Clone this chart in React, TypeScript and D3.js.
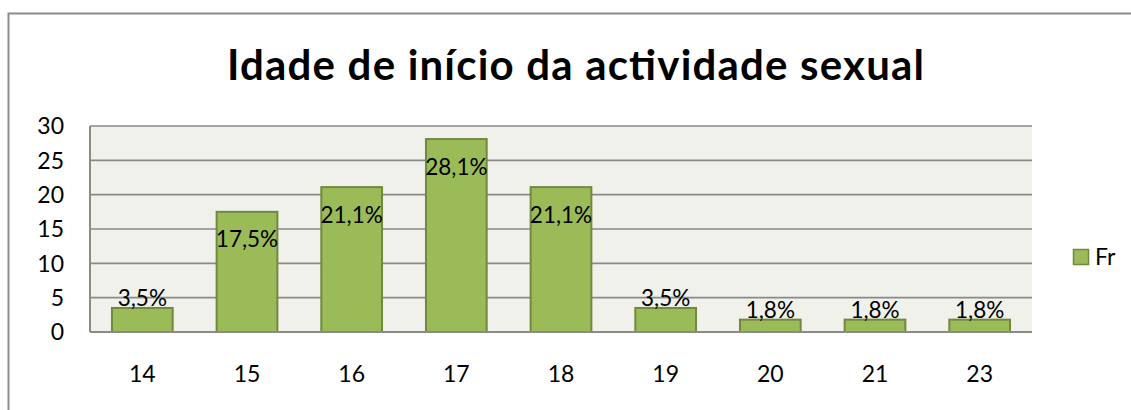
import React from "react";
import * as d3 from "d3";

const categories = ["14", "15", "16", "17", "18", "19", "20", "21", "23"];
const values = [3.5, 17.5, 21.1, 28.1, 21.1, 3.5, 1.8, 1.8, 1.8];
const labels = ["3,5%", "17,5%", "21,1%", "28,1%", "21,1%", "3,5%", "1,8%", "1,8%", "1,8%"];
const yTicks = [0, 5, 10, 15, 20, 25, 30];
const seriesName = "Fr";
const title = "Idade de início da actividade sexual";

const W = 1131;
const H = 410;
const plot = { left: 90, right: 1032, top: 126, bottom: 332 };
const FONT = "Lato, 'Open Sans', sans-serif";
const FILL = "#9BBB59";
const STROKE = "#71893F";
const GRID = "#8A8A8A";

export default function App() {
  const x = d3
    .scaleBand<string>()
    .domain(categories)
    .range([plot.left, plot.right])
    .paddingInner(0.42)
    .paddingOuter(0.21);
  const y = d3.scaleLinear().domain([0, 30]).range([plot.bottom, plot.top]);

  return (
    <svg
      width={W}
      height={H}
      style={{ position: "absolute", left: 0, top: 0, background: "#fff" }}
      fontFamily={FONT}
    >
      {/* outer chart border */}
      <rect x={8.5} y={13.5} width={W + 20} height={H + 20} fill="#fff" stroke="#8C8C8C" strokeWidth={2} />
      <text
        x={575.5}
        y={80}
        textAnchor="middle"
        fontSize={42}
        fontWeight={700}
        fill="#000"
        textLength={697}
        lengthAdjust="spacing"
      >
        {title}
      </text>
      {/* plot area */}
      <rect
        x={plot.left}
        y={plot.top}
        width={plot.right - plot.left}
        height={plot.bottom - plot.top}
        fill="#EFF1EA"
      />
      {yTicks.map((t) => (
        <g key={t}>
          {t > 0 && (
            <line x1={plot.left} x2={plot.right} y1={y(t)} y2={y(t)} stroke={GRID} strokeWidth={1.6} />
          )}
          <text x={64} y={y(t)} dy="0.36em" textAnchor="end" fontSize={23} fill="#000">
            {t}
          </text>
        </g>
      ))}
      {categories.map((c, i) => {
        const bx = x(c)!;
        const top = y(values[i]);
        const h = plot.bottom - top;
        const big = h > 40;
        return (
          <g key={c}>
            <rect x={bx} y={top} width={x.bandwidth()} height={h} fill={FILL} stroke={STROKE} strokeWidth={2} />
            <text
              x={bx + x.bandwidth() / 2}
              y={big ? top + 35.5 : top - 2}
              textAnchor="middle"
              fontSize={22.5}
              fill="#000"
            >
              {labels[i]}
            </text>
            <text x={bx + x.bandwidth() / 2} y={382} textAnchor="middle" fontSize={23} fill="#000">
              {c}
            </text>
          </g>
        );
      })}
      {/* axes */}
      <line x1={plot.left} x2={plot.left} y1={plot.top} y2={plot.bottom} stroke={GRID} strokeWidth={2} />
      <line x1={plot.left} x2={plot.right} y1={plot.bottom} y2={plot.bottom} stroke={GRID} strokeWidth={2} />
      {/* legend */}
      <rect x={1073.5} y={249.5} width={15} height={15} fill={FILL} stroke={STROKE} strokeWidth={1.5} />
      <text x={1095} y={257} dy="0.36em" fontSize={23} fill="#000">
        {seriesName}
      </text>
    </svg>
  );
}
